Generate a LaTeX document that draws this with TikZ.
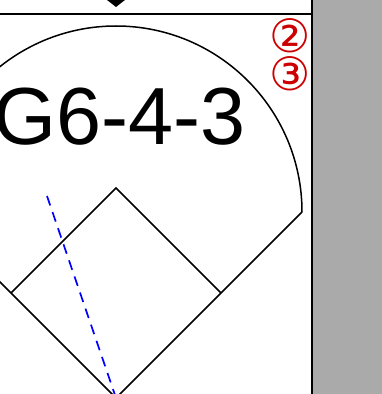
\documentclass[tikz,border=0pt]{standalone}
\usepackage{fontspec}
\setmainfont{Liberation Sans}
\newfontfamily\markfont{DejaVu Sans}
\definecolor{ink}{HTML}{000000}
\definecolor{sidebar}{HTML}{AAAAAA}
\definecolor{outred}{HTML}{CC0000}
\definecolor{throwblue}{HTML}{0000FF}
\tikzset{
  field line/.style={
    draw=ink,
    line width=1.5pt
  },
  frame line/.style={
    draw=ink,
    line width=2pt
  },
  throw path/.style={
    draw=throwblue,
    line width=1.7pt,
    dash pattern=on 10pt off 7pt
  },
  play label/.style={
    font=\fontsize{81}{81}\selectfont,
    text=ink,
    inner sep=0pt
  },
  out mark/.style={
    font=\markfont\fontsize{46}{46}\selectfont,
    text=outred,
    inner sep=0pt
  }
}

\begin{document}
\begin{tikzpicture}[x=1pt,y=1pt]
  \useasboundingbox (0,0) rectangle (382,394);
  \fill[sidebar] (313,0) rectangle (382,394);

  \coordinate (home) at (116,-4);
  \coordinate (first) at (221,101);
  \coordinate (second) at (116,206);
  \coordinate (third) at (11,101);

  \begin{scope}
    \clip (0,0) rectangle (312,380);
    \draw[field line] (302,182) arc[start angle=0,end angle=180,radius=186];
    \draw[field line] (302,182) -- (home) -- (-70,182);
    \draw[field line] (first) -- (second) -- (third);
    \draw[throw path] (47,198) -- (home);
  \end{scope}

  \draw[frame line] (0,380) -- (312,380);
  \draw[frame line] (312,0) -- (312,394);
  \fill[ink] (107,394) -- (125,394) -- (116,387) -- cycle;

  \node[play label,anchor=base west] (play) at (-7,249) {G6-4-3};
  \node[out mark] (out-two) at (290,358) {②};
  \node[out mark] (out-three) at (290,320) {③};
\end{tikzpicture}
\end{document}
